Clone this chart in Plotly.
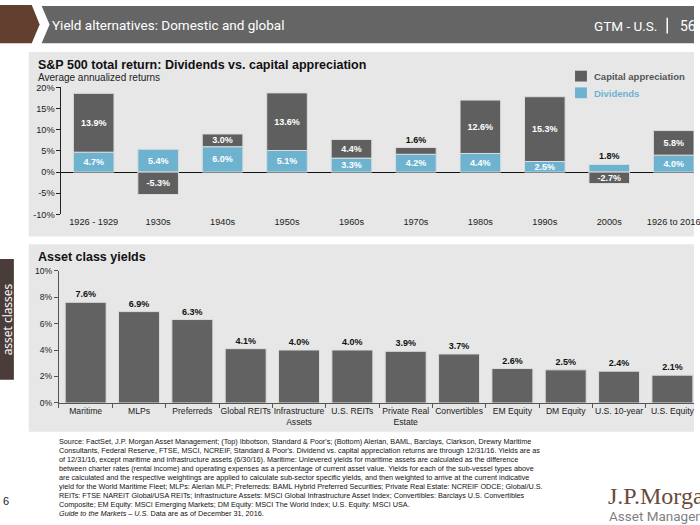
import plotly.graph_objects as go

W, H = 700, 525


def px(x):
    return x / W


def py(y):
    return 1 - y / H


# ---------------- data ----------------
periods = ["1926 - 1929", "1930s", "1940s", "1950s", "1960s", "1970s",
           "1980s", "1990s", "2000s", "1926 to 2016"]
dividends = [4.7, 5.4, 6.0, 5.1, 3.3, 4.2, 4.4, 2.5, 1.8, 4.0]
capital_appreciation = [13.9, -5.3, 3.0, 13.6, 4.4, 1.6, 12.6, 15.3, -2.7, 5.8]
top_ticks = [-10, -5, 0, 5, 10, 15, 20]

asset_classes = ["Maritime", "MLPs", "Preferreds", "Global REITs",
                 "Infrastructure<br>Assets", "U.S. REITs",
                 "Private Real<br>Estate", "Convertibles", "EM Equity",
                 "DM Equity", "U.S. 10-year", "U.S. Equity"]
yields = [7.6, 6.9, 6.3, 4.1, 4.0, 4.0, 3.9, 3.7, 2.6, 2.5, 2.4, 2.1]
bottom_ticks = [0, 2, 4, 6, 8, 10]

footnote_lines = [
    "Source: FactSet, J.P. Morgan Asset Management; (Top) Ibbotson, Standard & Poor's; (Bottom) Alerian, BAML, Barclays, Clarkson, Drewry Maritime",
    "Consultants, Federal Reserve, FTSE, MSCI, NCREIF, Standard & Poor's. Dividend vs. capital appreciation returns are through 12/31/16. Yields are as",
    "of 12/31/16, except maritime and infrastructure assets (6/30/16). Maritime: Unlevered yields for maritime assets are calculated as the difference",
    "between charter rates (rental income) and operating expenses as a percentage of current asset value. Yields for each of the sub-vessel types above",
    "are calculated and the respective weightings are applied to calculate sub-sector specific yields, and then weighted to arrive at the current indicative",
    "yield for the World Maritime Fleet; MLPs: Alerian MLP; Preferreds: BAML Hybrid Preferred Securities; Private Real Estate: NCREIF ODCE; Global/U.S.",
    "REITs: FTSE NAREIT Global/USA REITs; Infrastructure Assets: MSCI Global Infrastructure Asset Index; Convertibles: Barclays U.S. Convertibles",
    "Composite; EM Equity: MSCI Emerging Markets; DM Equity: MSCI The World Index; U.S. Equity: MSCI USA.",
    "<i>Guide to the Markets – U.S.</i> Data are as of December 31, 2016.",
]

# ---------------- style ----------------
FONT = "Liberation Sans, Arial, sans-serif"
COND = "Roboto, Liberation Sans, sans-serif"
C_CAP = "#5f5f5f"
C_DIV = "#6db3d0"
C_BAR2 = "#626262"
C_PANEL = "#e7e7e7"


def pos(vals):
    return ["outside" if abs(v) < 2 else "inside" for v in vals]


fig = go.Figure()

fig.add_trace(go.Bar(
    x=periods, y=dividends, name="Dividends", width=0.63,
    marker=dict(color=C_DIV, line=dict(color="#dcdcdc", width=1)),
    texttemplate="<b>%{y:.1f}%</b>", textposition=pos(dividends),
    insidetextanchor="middle", constraintext="none",
    insidetextfont=dict(family=FONT, size=9, color="white"),
    outsidetextfont=dict(family=FONT, size=9, color="#111"),
    cliponaxis=False, showlegend=False, xaxis="x", yaxis="y"))
fig.add_trace(go.Bar(
    x=periods, y=capital_appreciation, name="Capital appreciation", width=0.63,
    marker=dict(color=C_CAP, line=dict(color="#dcdcdc", width=1)),
    texttemplate="<b>%{y:.1f}%</b>", textposition=pos(capital_appreciation),
    insidetextanchor="middle", constraintext="none",
    insidetextfont=dict(family=FONT, size=9, color="white"),
    outsidetextfont=dict(family=FONT, size=9, color="#111"),
    cliponaxis=False, showlegend=False, xaxis="x", yaxis="y"))

fig.add_trace(go.Bar(
    x=asset_classes, y=yields, name="Yield", width=0.768,
    marker=dict(color=C_BAR2, line=dict(color="#dcdcdc", width=1)),
    texttemplate="<b>%{y:.1f}%</b>", textposition="outside",
    constraintext="none",
    outsidetextfont=dict(family=FONT, size=9, color="#111"),
    cliponaxis=False, showlegend=False, xaxis="x2", yaxis="y2"))

shapes = []
annotations = []

# header
shapes.append(dict(type="path", xref="paper", yref="paper", layer="below",
                   path=f"M {px(0)},{py(0)} L {px(32)},{py(0)} L {px(40)},{py(20)} L {px(32)},{py(39)} L {px(0)},{py(39)} Z",
                   fillcolor="#623f2e", line=dict(width=0)))
shapes.append(dict(type="path", xref="paper", yref="paper", layer="below",
                   path=f"M {px(42)},{py(1)} L {px(700)},{py(1)} L {px(700)},{py(39)} L {px(42)},{py(39)} L {px(50)},{py(20)} Z",
                   fillcolor="#656565", line=dict(width=0)))
# header separator
shapes.append(dict(type="line", xref="paper", yref="paper",
                   x0=px(673), x1=px(673), y0=py(13), y1=py(29),
                   line=dict(color="white", width=1.5)))
# panels
shapes.append(dict(type="rect", xref="paper", yref="paper", layer="below",
                   x0=px(29), x1=px(700), y0=py(236), y1=py(48),
                   fillcolor=C_PANEL, line=dict(width=0)))
shapes.append(dict(type="rect", xref="paper", yref="paper", layer="below",
                   x0=px(29), x1=px(700), y0=py(435), y1=py(244),
                   fillcolor=C_PANEL, line=dict(width=0)))
# side tab
shapes.append(dict(type="rect", xref="paper", yref="paper", layer="below",
                   x0=px(0), x1=px(14), y0=py(382), y1=py(259),
                   fillcolor="#4a3d39", line=dict(width=0)))
# legend swatches
shapes.append(dict(type="rect", xref="paper", yref="paper",
                   x0=px(580), x1=px(592), y0=py(78), y1=py(67),
                   fillcolor=C_CAP, line=dict(width=0)))
shapes.append(dict(type="rect", xref="paper", yref="paper",
                   x0=px(580), x1=px(592), y0=py(95), y1=py(84),
                   fillcolor=C_DIV, line=dict(width=0)))


def ann(x, y, text, size, color="#111", family=FONT, xanchor="left", **kw):
    annotations.append(dict(x=px(x), y=py(y), xref="paper", yref="paper",
                            text=text, showarrow=False, xanchor=xanchor,
                            yanchor="middle", font=dict(family=family, size=size, color=color),
                            **kw))


ann(50, 20, "Yield alternatives: Domestic and global", 13.5, "white", COND)
ann(597, 21, "GTM - U.S.", 13.5, "white", COND)
ann(684, 21, "56", 14, "white", COND)
ann(36, 61, "<b>S&P 500 total return: Dividends vs. capital appreciation</b>", 12.5)
ann(36, 73.5, "Average annualized returns", 10, "#222")
ann(597, 72.5, "<b>Capital appreciation</b>", 9.5, "#555")
ann(597, 90, "<b>Dividends</b>", 9.5, C_DIV)
ann(36, 257, "<b>Asset class yields</b>", 12.5)
ann(7.5, 320, "asset classes", 12, "white", "Open Sans, sans-serif",
    xanchor="center", textangle=-90)

for i, line in enumerate(footnote_lines):
    ann(57, 445 + 9.2 * i, line, 7.25, "#111")

ann(1, 506, "6", 11, "#222")
ann(611, 501, "J.P.Morgan", 24, "#6a4a3a", "Liberation Serif, DejaVu Serif, serif")
ann(612, 521, "Asset Management", 13.5, "#7f7f7f", COND)

top_font = dict(family=FONT, size=9.2, color="#222")
bot_font = dict(family=FONT, size=8.6, color="#222")

fig.update_layout(
    width=W, height=H,
    margin=dict(l=0, r=0, t=0, b=0),
    paper_bgcolor="white", plot_bgcolor="rgba(0,0,0,0)",
    barmode="relative",
    showlegend=False,
    shapes=shapes, annotations=annotations,
    xaxis=dict(domain=[px(62), 1], range=[-0.5, 9.315], type="category",
               showgrid=False, showline=False, ticks="", zeroline=False,
               tickangle=0, tickfont=top_font, anchor="y", fixedrange=True),
    yaxis=dict(domain=[py(213.5), py(84)], range=[-10, 20],
               tickvals=top_ticks, ticktext=[f"{v}%" for v in top_ticks],
               showgrid=False, showline=True, linecolor="#222", linewidth=1,
               ticks="outside", ticklen=4, tickcolor="#222",
               zeroline=True, zerolinecolor="#111", zerolinewidth=1,
               tickfont=top_font, anchor="x"),
    xaxis2=dict(domain=[px(59.5), 1], range=[-0.5, 11.405], type="category",
                showgrid=False, showline=True, linecolor="#555", linewidth=1,
                ticks="outside", ticklen=4, tickcolor="#555", tickson="boundaries",
                tickangle=0, tickfont=bot_font, anchor="y2"),
    yaxis2=dict(domain=[py(405.7), py(270.7)], range=[0, 10],
                tickvals=bottom_ticks, ticktext=[f"{v}%" for v in bottom_ticks],
                showgrid=False, showline=True, linecolor="#555", linewidth=1,
                ticks="outside", ticklen=4, tickcolor="#555", zeroline=False,
                tickfont=bot_font, anchor="x2"),
)

fig.write_html("out.html", config={"displayModeBar": False},
               post_script="document.body.style.margin='0';document.body.style.overflow='hidden';")
